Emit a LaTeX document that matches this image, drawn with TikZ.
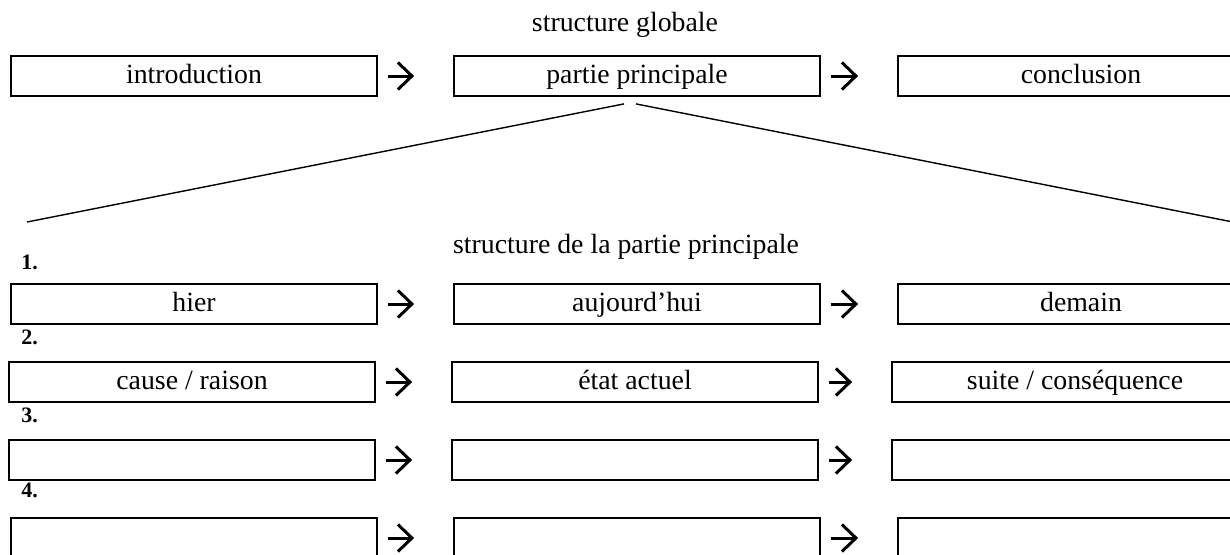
\documentclass[tikz,border=0pt]{standalone}
\usepackage{fontspec}
\setmainfont{Liberation Serif}
\usetikzlibrary{arrows.meta}

\tikzset{
  bloc/.style={draw, line width=0.9pt, minimum width=183pt, minimum height=20pt,
    inner sep=0pt, text height=10pt, text depth=3pt,
    font=\fontsize{13.9}{16}\selectfont},
  fleche/.style={line width=1.5pt, -{Straight Barb[length=7pt,width=13.5pt]},
    shorten <=5pt, shorten >=19.5pt},
  titre/.style={inner sep=0pt, font=\fontsize{13.9}{16}\selectfont},
  numero/.style={anchor=west, inner sep=0pt, font=\fontsize{11}{12}\selectfont\bfseries},
  trait/.style={line width=0.7pt}
}

\begin{document}
\begin{tikzpicture}[x=0.5pt, y=-0.5pt]
  \useasboundingbox (0,0) rectangle (1230,554);

  % structure globale
  \node[titre] (tglob) at (625,25) {structure globale};
  \node[bloc] (intro) at (194,76) {introduction};
  \node[bloc] (partie) at (637,76) {partie principale};
  \node[bloc] (concl) at (1081,76) {conclusion};
  \draw[fleche] (intro.east) -- (partie.west);
  \draw[fleche] (partie.east) -- (concl.west);

  % ouverture vers la partie principale
  \coordinate (bg) at (27,222);
  \coordinate (bd) at (1233,222);
  \draw[trait] ([shift={(-13,7)}]partie.south) -- (bg);
  \draw[trait] ([shift={(-1,7)}]partie.south) -- (bd);
  \node[titre] (tpart) at (626,247) {structure de la partie principale};

  % 1.
  \node[numero] (n1) at (21,262) {1.};
  \node[bloc] (g1) at (194,304) {hier};
  \node[bloc] (m1) at (637,304) {aujourd’hui};
  \node[bloc] (d1) at (1081,304) {demain};
  \draw[fleche] (g1.east) -- (m1.west);
  \draw[fleche] (m1.east) -- (d1.west);

  % 2.
  \node[numero] (n2) at (21,337) {2.};
  \node[bloc] (g2) at (192,382) {cause / raison};
  \node[bloc] (m2) at (635,382) {état actuel};
  \node[bloc] (d2) at (1075,382) {suite / conséquence};
  \draw[fleche] (g2.east) -- (m2.west);
  \draw[fleche] (m2.east) -- (d2.west);

  % 3.
  \node[numero] (n3) at (21,415) {3.};
  \node[bloc] (g3) at (192,460) {};
  \node[bloc] (m3) at (635,460) {};
  \node[bloc] (d3) at (1075,460) {};
  \draw[fleche] (g3.east) -- (m3.west);
  \draw[fleche] (m3.east) -- (d3.west);

  % 4.
  \node[numero] (n4) at (21,490) {4.};
  \node[bloc] (g4) at (194,538) {};
  \node[bloc] (m4) at (637,538) {};
  \node[bloc] (d4) at (1081,538) {};
  \draw[fleche] (g4.east) -- (m4.west);
  \draw[fleche] (m4.east) -- (d4.west);
\end{tikzpicture}
\end{document}
